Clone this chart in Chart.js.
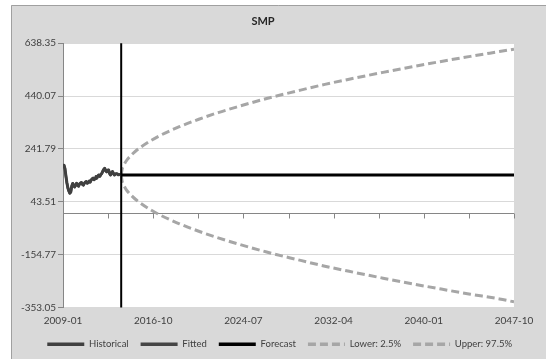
<!DOCTYPE html>
<html>
<head>
<meta charset="utf-8">
<script src="https://cdn.jsdelivr.net/npm/chart.js@4/dist/chart.umd.min.js"></script>
<style>
  html, body { margin: 0; padding: 0; background: #ffffff; }
  canvas { display: block; }
</style>
</head>
<body>
<canvas id="c" width="546" height="359"></canvas>
<script>
// ---- data ----
const titleText = 'SMP';
const xTickPositions = [0, 93, 186, 279, 372, 465];           // month index from 2009-01
const xTickLabels = ['2009-01', '2016-10', '2024-07', '2032-04', '2040-01', '2047-10'];
const yTicks = [-353.05, -154.77, 43.51, 241.79, 440.07, 638.35];
const xMinorTicks = [0, 46.5, 93, 139.5, 186, 232.5, 279, 325.5, 372, 418.5, 465];

// Historical monthly values 2009-01 .. 2013-12 (index 0..59)
const historicalValues = [178, 181, 168, 140, 115, 96, 84, 76, 80, 102,
  112, 104, 99, 107, 113, 105, 102, 110, 114, 116,
  109, 106, 113, 117, 119, 113, 116, 121, 117, 125,
  129, 132, 126, 131, 138, 133, 141, 144, 139, 146,
  150, 158, 165, 169, 160, 156, 162, 163, 150, 144,
  151, 157, 150, 144, 147, 149, 148, 145, 146, 144];
const fittedValues = historicalValues.slice();

const forecastStart = 60;
const forecastMonths = [60, 465];
const forecastValues = [144, 144];

const boundMonths = [60, 61, 62, 64, 66, 70, 75, 80, 90, 100, 120, 140, 160, 180, 210, 240, 270, 300, 330, 360, 390, 420, 450, 465];
const upperValues = [144, 167, 176, 190, 201, 217, 234, 248, 272, 292, 325, 353, 378, 400, 431, 458, 484, 507, 529, 550, 570, 589, 607, 616];
const lowerValues = [144, 120, 110, 96, 85, 69, 52, 38, 14, -6, -39, -67, -92, -114, -145, -172, -198, -221, -243, -264, -284, -303, -321, -332];

const seriesNames = ['Historical', 'Fitted', 'Forecast', 'Lower: 2.5%', 'Upper: 97.5%'];

// ---- build datasets ----
const toXY = (xs, ys) => ys.map((y, i) => ({x: xs[i], y: y}));
const histIdx = historicalValues.map((_, i) => i);

const FONT = 'Lato, "Liberation Sans", sans-serif';
const TEXT = '#404040';

const datasets = [
  {label: seriesNames[0], data: toXY(histIdx, historicalValues), borderColor: '#404040', borderWidth: 3, pointRadius: 0, tension: 0},
  {label: seriesNames[1], data: toXY(histIdx, fittedValues), borderColor: '#454545', borderWidth: 2.5, pointRadius: 0, tension: 0},
  {label: seriesNames[2], data: toXY(forecastMonths, forecastValues), borderColor: '#000000', borderWidth: 3, pointRadius: 0},
  {label: seriesNames[3], data: toXY(boundMonths, lowerValues), borderColor: '#a6a6a6', borderWidth: 3, borderDash: [8, 4], pointRadius: 0, cubicInterpolationMode: 'monotone'},
  {label: seriesNames[4], data: toXY(boundMonths, upperValues), borderColor: '#a6a6a6', borderWidth: 3, borderDash: [8, 4], pointRadius: 0, cubicInterpolationMode: 'monotone'}
];

const backgroundPlugin = {
  id: 'bg',
  afterLayout(chart) {
    if (chart.legend) { chart.legend.left += 10; chart.legend.right += 10; }
  },
  beforeDraw(chart) {
    const ctx = chart.ctx;
    ctx.save();
    ctx.fillStyle = '#ffffff';
    ctx.fillRect(0, 0, chart.width, chart.height);
    ctx.fillStyle = '#d9d9d9';
    ctx.fillRect(11, 5, chart.width - 11, chart.height - 5);
    ctx.strokeStyle = '#a0a0a0';
    ctx.lineWidth = 1;
    ctx.beginPath();
    ctx.moveTo(11.5, chart.height);
    ctx.lineTo(11.5, 5.5);
    ctx.lineTo(chart.width, 5.5);
    ctx.stroke();
    const a = chart.chartArea;
    ctx.fillStyle = '#ffffff';
    ctx.fillRect(a.left, a.top, a.right - a.left, a.bottom - a.top);
    ctx.restore();
  }
};

const overlayPlugin = {
  id: 'overlay',
  afterDatasetsDraw(chart) {
    const ctx = chart.ctx;
    const xs = chart.scales.x, ys = chart.scales.y;
    const a = chart.chartArea;
    ctx.save();
    // tick marks on the zero line
    const y0 = Math.round(ys.getPixelForValue(0)) + 0.5;
    ctx.strokeStyle = '#868686';
    ctx.lineWidth = 1;
    ctx.beginPath();
    xMinorTicks.forEach(v => {
      const px = Math.round(xs.getPixelForValue(v)) + 0.5;
      ctx.moveTo(px, y0);
      ctx.lineTo(px, y0 + 5);
    });
    ctx.stroke();
    // forecast start vertical line
    const xv = xs.getPixelForValue(forecastStart);
    ctx.strokeStyle = '#000000';
    ctx.lineWidth = 2;
    ctx.beginPath();
    ctx.moveTo(xv, a.top);
    ctx.lineTo(xv, a.bottom);
    ctx.stroke();
    ctx.restore();
  }
};

new Chart(document.getElementById('c'), {
  type: 'line',
  data: {datasets: datasets},
  options: {
    responsive: false,
    animation: false,
    devicePixelRatio: 1,
    layout: {padding: {left: 12, right: 32, top: 5, bottom: 0}},
    elements: {line: {borderCapStyle: 'butt', borderJoinStyle: 'round'}},
    plugins: {
      title: {
        display: true, text: titleText, color: '#262626',
        font: {family: FONT, size: 11, weight: 'bold'},
        padding: {top: 10, bottom: 15}
      },
      legend: {
        position: 'bottom',
        align: 'end',
        labels: {
          usePointStyle: true,
          pointStyleWidth: 37,
          boxHeight: 10,
          padding: 12,
          color: TEXT,
          font: {family: FONT, size: 9.5},
          generateLabels(chart) {
            return chart.data.datasets.map((d, i) => ({
              text: d.label,
              strokeStyle: d.borderColor,
              fillStyle: d.borderColor,
              lineWidth: 3.5,
              lineDash: d.borderDash || [],
              pointStyle: 'line',
              fontColor: TEXT,
              hidden: false,
              datasetIndex: i
            }));
          }
        }
      },
      tooltip: {enabled: false}
    },
    scales: {
      x: {
        type: 'linear', min: 0, max: 465,
        afterBuildTicks(scale) { scale.ticks = xTickPositions.map(v => ({value: v})); },
        afterFit(scale) { scale.height = 20; },
        ticks: {
          autoSkip: false, maxRotation: 0, padding: 7,
          color: TEXT, font: {family: FONT, size: 10},
          callback(value, index) { return xTickLabels[index]; }
        },
        grid: {display: false, drawTicks: false},
        border: {display: false}
      },
      y: {
        type: 'linear', min: yTicks[0], max: yTicks[yTicks.length - 1],
        afterBuildTicks(scale) {
          scale.ticks = yTicks.concat([0]).sort((p, q) => p - q).map(v => ({value: v}));
        },
        afterFit(scale) { scale.width = 51; },
        ticks: {
          padding: 2, color: TEXT, font: {family: FONT, size: 10},
          callback(value) { return value === 0 ? '' : value.toFixed(2); }
        },
        grid: {
          color: c => (c.tick && c.tick.value === 0) ? '#868686' : '#d9d9d9',
          tickColor: c => (c.tick && c.tick.value === 0) ? 'rgba(0,0,0,0)' : '#868686',
          tickLength: 5,
          lineWidth: 1
        },
        border: {color: '#868686'}
      }
    }
  },
  plugins: [backgroundPlugin, overlayPlugin]
});
</script>
</body>
</html>
